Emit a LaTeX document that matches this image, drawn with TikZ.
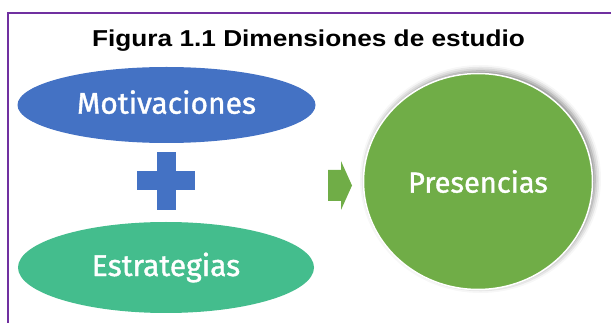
\documentclass[tikz,border=0pt]{standalone}
\usepackage{fontspec}
\setmainfont{Liberation Sans}
\newfontfamily\dimfont{Fira Sans}[FakeBold=1.2]
\usetikzlibrary{shapes.geometric,shadows.blur}
\definecolor{marco}{HTML}{7030A0}
\definecolor{azul}{HTML}{4472C4}
\definecolor{verdeagua}{HTML}{44BD8D}
\definecolor{verde}{HTML}{70AD47}

\begin{document}
\begin{tikzpicture}[x=1pt,y=-1pt,
    dimension/.style={ellipse,inner sep=0pt,text=white,font=\dimfont\fontsize{30}{34}\selectfont}]
        \useasboundingbox (0,0) rectangle (611,323);
        \draw[marco,line width=2pt] (8,323) |- (611,13);
        \node[anchor=base,xscale=1.14,font=\bfseries\fontsize{23}{27}\selectfont] (titulo) at (308.5,46.7) {Figura 1.1 Dimensiones de estudio};

        \node[dimension,fill=azul,text depth=6pt,minimum width=298pt,minimum height=76pt] (motiv) at (166.5,105) {Motivaciones};
        \node[dimension,fill=verdeagua,minimum width=296pt,minimum height=91pt] (estrat) at (166,267.5) {Estrategias};
        \node[dimension,font=\dimfont\fontsize{29}{33}\selectfont,fill=verde,draw=white,line width=1.5pt,minimum width=229pt,minimum height=216pt,
            blur shadow={shadow xshift=2.5pt,shadow yshift=2.5pt,shadow blur radius=6pt,shadow opacity=50}] (presen) at (478,181.5) {Presencias};

        % signo mas
        \coordinate (mas) at (166,181);
        \fill[azul] ([shift={(-9.5,-29)}]mas) rectangle ([shift={(9.5,29)}]mas);
        \fill[azul] ([shift={(-29,-9.5)}]mas) rectangle ([shift={(29,9.5)}]mas);

        % flecha
        \fill[verde] (328,170) -- (341,170) -- (341,161) -- (352,185.5) -- (341,210) -- (341,201) -- (328,201) -- cycle;
\end{tikzpicture}
\end{document}
